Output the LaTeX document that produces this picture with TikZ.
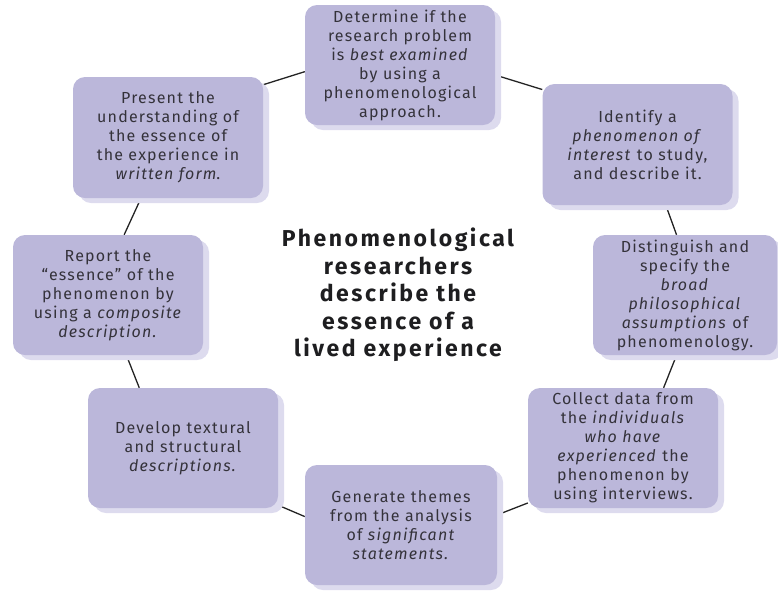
\documentclass[tikz,border=0pt]{standalone}
\usepackage{fontspec}
\setmainfont{Fira Sans}
\newfontfamily\stagefont[LetterSpace=7.5]{Fira Sans}
\newfontfamily\headfont[LetterSpace=11]{Fira Sans}
\usetikzlibrary{shadows}
\pgfdeclarelayer{background}
\pgfsetlayers{background,main}
\definecolor{boxfill}{RGB}{187,183,218}
\definecolor{boxshade}{RGB}{221,219,238}
\definecolor{ink}{RGB}{52,50,58}
\definecolor{titleink}{RGB}{30,30,32}
\definecolor{linkc}{RGB}{35,35,35}
\begin{document}
\begin{tikzpicture}[x=1pt,y=-1pt,
  stage/.style={fill=boxfill, rounded corners=12pt, minimum width=190pt,
    minimum height=120pt, align=center, inner sep=0pt, text=ink,
    font=\stagefont\fontsize{16}{19}\selectfont,
    general shadow={shadow xshift=6pt, shadow yshift=-5pt, fill=boxshade}},
  link/.style={draw=linkc, line width=1.3pt}]
\useasboundingbox (0,0) rectangle (778,590);

% the eight steps, clockwise from the top
\node[stage] (b1) at (400,65) {Determine if the\\research problem\\is \textit{best examined}\\by using a\\phenomenological\\approach.};
\node[stage, minimum height=121pt] (b2) at (637.5,144.5) {Identify a\\\textit{phenomenon of}\\\textit{interest} to study,\\and describe it.};
\node[stage, minimum width=184pt] (b3) at (685,295) {Distinguish and\\specify the\\\textit{broad}\\\textit{philosophical}\\\textit{assumptions} of\\phenomenology.};
\node[stage] (b4) at (623,448) {Collect data from\\the \textit{individuals}\\\textit{who have}\\\textit{experienced} the\\phenomenon by\\using interviews.};
\node[stage, minimum width=192pt] (b5) at (401,525) {Generate themes\\from the analysis\\of \textit{significant}\\\textit{statements.}};
\node[stage] (b6) at (183,448) {Develop textural\\and structural\\\textit{descriptions.}};
\node[stage] (b7) at (108,295) {Report the\\“essence” of the\\phenomenon by\\using a \textit{composite}\\\textit{description.}};
\node[stage, minimum height=121pt] (b8) at (168,137.5) {Present the\\understanding of\\the essence of\\the experience in\\\textit{written form}.};

% central statement
\node[align=center, text=titleink, font=\headfont\fontsize{23}{27.5}\selectfont\bfseries] (title) at (398,295)
  {Phenomenological\\researchers\\describe the\\essence of a\\lived experience};

% connectors around the cycle, kept behind the boxes
\begin{pgfonlayer}{background}
\draw[link] (b1.-6) -- (b2.150.5);
\draw[link] (b2.-65.6) -- (b3.98.5);
\draw[link] (b3.-98.5) -- (b4.56.3);
\draw[link] (b4.210.5) -- (b5.6);
\draw[link] (b5.175.2) -- (b6.-31.8);
\draw[link] (b6.126.9) -- (b7.-73.3);
\draw[link] (b7.75.1) -- (b8.-114.8);
\draw[link] (b8.29) -- (b1.184.2);
\end{pgfonlayer}
\end{tikzpicture}
\end{document}
